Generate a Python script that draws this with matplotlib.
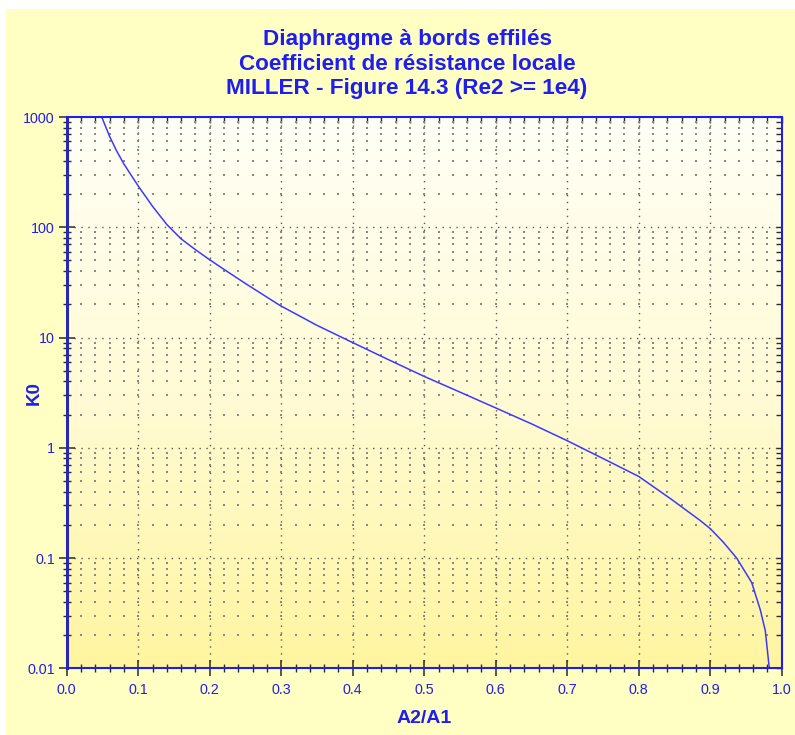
import numpy as np
import matplotlib
matplotlib.use("Agg")
import matplotlib.pyplot as plt
from matplotlib.colors import LinearSegmentedColormap
from matplotlib.patches import Rectangle
from matplotlib.ticker import MultipleLocator, LogLocator, FixedLocator, FuncFormatter, NullFormatter

# data (A2/A1 -> K0)
area_ratio = [0.049, 0.06, 0.07, 0.08, 0.0885, 0.10, 0.12, 0.14, 0.16, 0.18,
              0.198, 0.219, 0.25, 0.298, 0.35, 0.40, 0.45, 0.50, 0.55,
              0.60, 0.65, 0.70, 0.75, 0.80, 0.846, 0.886, 0.90, 0.918, 0.937,
              0.958, 0.97, 0.977, 0.983]
k0 = [1000, 667, 490, 375, 308, 237, 155, 106, 78.5, 62.7,
      51.8, 41.9, 30.9, 19.6, 12.9, 9.0, 6.3, 4.44, 3.2,
      2.3, 1.65, 1.16, 0.80, 0.55, 0.34, 0.219, 0.185, 0.14, 0.10,
      0.06, 0.034, 0.022, 0.0095]

x_ticks = [0.0, 0.1, 0.2, 0.3, 0.4, 0.5, 0.6, 0.7, 0.8, 0.9, 1.0]
y_ticks = [0.01, 0.1, 1, 10, 100, 1000]
y_labels = ["0.01", "0.1", "1", "10", "100", "1000"]

title = "Diaphragme à bords effilés\nCoefficient de résistance locale\nMILLER - Figure 14.3 (Re2 >= 1e4)"

BLUE = "#1e1ef0"
LINE = "#3a3aff"
TICK = "#2a2a2a"

plt.rcParams["font.family"] = ["Liberation Sans", "DejaVu Sans"]

fig = plt.figure(figsize=(7.95, 7.35), dpi=100, facecolor="white")
fig.patches.append(Rectangle((6 / 795, 0), 1, 1 - 9 / 735, transform=fig.transFigure,
                             facecolor="#ffffc4", edgecolor="none", zorder=-10))

ax = fig.add_axes([0.0839, 0.0907, 0.8994, 0.7501])
ax.set_yscale("log")
ax.set_xlim(0, 1)
ax.set_ylim(0.01, 1000)

# white -> yellow gradient
grad = LinearSegmentedColormap.from_list("g", ["#fffff6", "#fffbd6", "#fff5a0"])
ax.imshow(np.linspace(0, 1, 256).reshape(-1, 1), cmap=grad, aspect="auto",
          extent=[0, 1, 0, 1], transform=ax.transAxes, zorder=0)

ax.xaxis.set_major_locator(FixedLocator(x_ticks))
ax.xaxis.set_minor_locator(MultipleLocator(0.02))
ax.xaxis.set_major_formatter(FuncFormatter(lambda v, p: f"{v:.1f}"))
ax.yaxis.set_major_locator(FixedLocator(y_ticks))
ax.yaxis.set_major_formatter(FuncFormatter(lambda v, p: y_labels[p] if p is not None and p < len(y_labels) else ""))
ax.yaxis.set_minor_locator(LogLocator(base=10, subs=np.arange(2, 10)))
ax.yaxis.set_minor_formatter(NullFormatter())

# grid: dotted major lines, dots at minor intersections
for xv in x_ticks[1:-1]:
    ax.axvline(xv, color="#5a5a50", lw=1.0, ls=(0, (1, 4)), zorder=1)
for yv in y_ticks[1:-1]:
    ax.axhline(yv, color="#5a5a50", lw=1.0, ls=(0, (1, 4)), zorder=1)
gx = np.arange(0.02, 1.0, 0.02)
gy = [m * 10.0 ** e for e in range(-2, 3) for m in range(2, 10)]
GX, GY = np.meshgrid(gx, gy)
ax.scatter(GX.ravel(), GY.ravel(), s=1.2, c="#8a8a80", marker="s", linewidths=0, zorder=1)

ax.plot(area_ratio, k0, color=LINE, lw=1.1, zorder=3, clip_on=True)

for side in ["top", "right", "bottom"]:
    ax.spines[side].set_color(BLUE)
    ax.spines[side].set_linewidth(1.5)
ax.spines["left"].set_color("#2828b4")
ax.spines["left"].set_linewidth(2.2)
for s in ax.spines.values():
    s.set_zorder(4)

ax.tick_params(axis="both", which="major", direction="inout", length=11, width=1.1,
               color=TICK, labelcolor=BLUE, labelsize=10.3)
ax.tick_params(axis="both", which="minor", direction="inout", length=6, width=1.0, color=TICK)
ax.tick_params(axis="x", which="major", pad=5)
ax.tick_params(axis="y", which="major", pad=3)

# inward ticks on top and right
top = ax.secondary_xaxis("top")
top.xaxis.set_major_locator(FixedLocator(x_ticks))
top.xaxis.set_minor_locator(MultipleLocator(0.02))
top.tick_params(which="both", direction="in", length=4, width=1.0, color=TICK, labeltop=False)
top.spines["top"].set_visible(False)
right = ax.secondary_yaxis("right")
right.yaxis.set_major_locator(FixedLocator(y_ticks))
right.yaxis.set_minor_locator(LogLocator(base=10, subs=np.arange(2, 10)))
right.tick_params(which="both", direction="in", length=4, width=1.0, color=TICK, labelright=False)
right.yaxis.set_minor_formatter(NullFormatter())
right.spines["right"].set_visible(False)

ax.set_xlabel("A2/A1", color=BLUE, fontsize=14, fontweight="bold")
ax.xaxis.set_label_coords(0.5, -0.075)
ax.set_ylabel("K0", color=BLUE, fontsize=13.5, fontweight="bold")
ax.yaxis.set_label_coords(-0.033, 0.5)

fig.text(0.512, 1 - 64 / 735, title, ha="center", va="center", color=BLUE,
         fontsize=16.2, fontweight="bold", linespacing=1.22)

fig.savefig("out.png", dpi=100, facecolor=fig.get_facecolor())
